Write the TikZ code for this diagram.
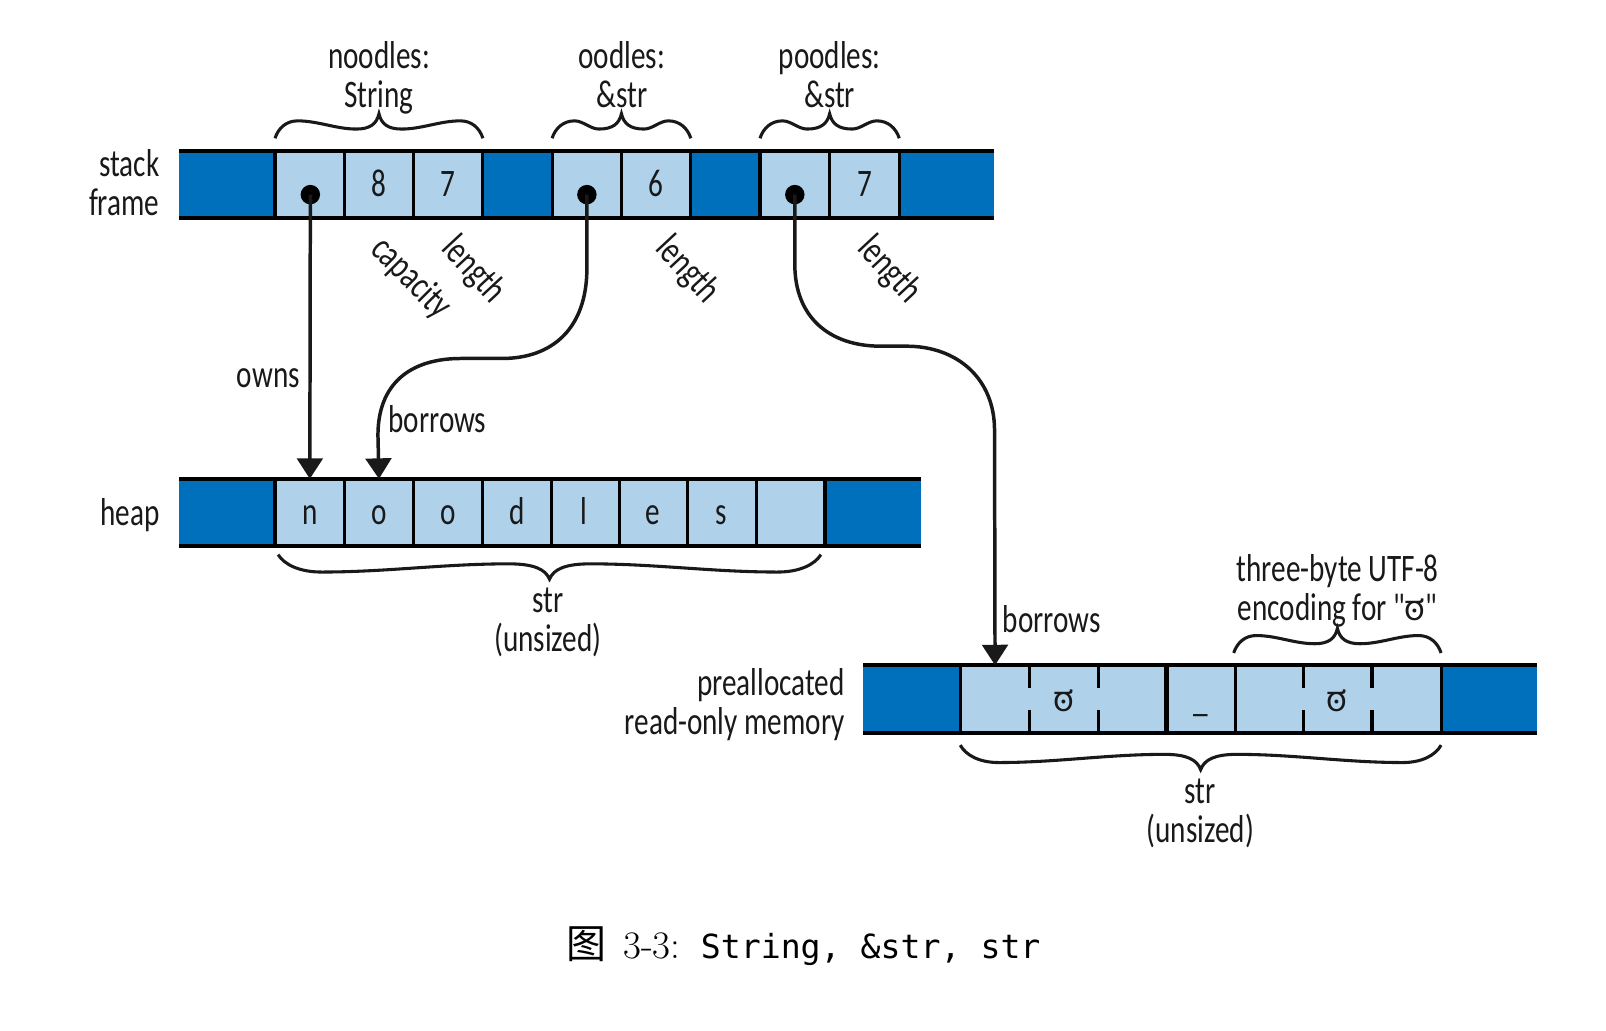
\documentclass[tikz,border=0pt]{standalone}
\usepackage{fontspec}
\usepackage{xcolor}
\usepackage{tikz}
\usetikzlibrary{arrows.meta,calc}
\newfontfamily\diagfont[FakeStretch=0.75]{Carlito}
\newfontfamily\kannfont[Script=Kannada]{Hind Mysuru}
\newfontfamily\cjkfont{Noto Sans CJK SC}
\newfontfamily\capmono{DejaVu Sans Mono}
\definecolor{memdark}{HTML}{0070BC}
\definecolor{memlight}{HTML}{AFD2EA}
% brace between two points, #3 = 1 opens downward, -1 opens upward
\newcommand{\curlybrace}[3]{
  \draw[bracestroke] let \p1=(#1), \p2=(#2), \n1={\x1+0.5*(\x2-\x1)},
      \n7={max(11pt,0.08*(\x2-\x1))}, \n8={max(11pt,0.075*(\x2-\x1))},
      \n2={\x1+\n7}, \n3={\n1-\n8}, \n4={\x2-\n7}, \n5={\n1+\n8}, \n6={0.35*(\n3-\n2)} in
    (\x1,\y1) .. controls ({\x1+0.15*\n7},{\y1+#3*5pt}) and ({\x1+0.5*\n7},{\y1+#3*8.5pt}) .. (\n2,{\y1+#3*8.5pt})
    .. controls ({\n2+\n6},{\y1+#3*8.5pt}) and ({\n3-\n6},{\y1+#3*4.5pt}) .. (\n3,{\y1+#3*4.5pt})
    .. controls ({\n1-0.4*\n8},{\y1+#3*4.5pt}) and ({\n1-0.1*\n8},{\y1+#3*7pt}) .. (\n1,{\y1+#3*12pt})
    .. controls ({\n1+0.1*\n8},{\y1+#3*7pt}) and ({\n1+0.4*\n8},{\y1+#3*4.5pt}) .. (\n5,{\y1+#3*4.5pt})
    .. controls ({\n5+\n6},{\y1+#3*4.5pt}) and ({\n4-\n6},{\y1+#3*8.5pt}) .. (\n4,{\y1+#3*8.5pt})
    .. controls ({\x2-0.5*\n7},{\y1+#3*8.5pt}) and ({\x2-0.15*\n7},{\y1+#3*5pt}) .. (\x2,\y1);
}
\tikzset{
  darkcell/.style={rectangle, fill=memdark, minimum height=33pt, inner sep=0pt, outer sep=0pt},
  lightcell/.style={rectangle, fill=memlight, minimum width=34pt, minimum height=33pt,
    inner sep=0pt, outer sep=0pt, text=black!90, text height=12pt, text depth=0pt,
    font=\diagfont\fontsize{19}{19}\selectfont},
  labeltext/.style={align=center, inner sep=0pt, text=black!90,
    font=\diagfont\fontsize{19}{19}\selectfont},
  ptrdot/.style={circle, fill=black, minimum size=9.5pt, inner sep=0pt},
  barrule/.style={draw=black, line width=2pt},
  cellrule/.style={draw=black, line width=1.5pt},
  bracestroke/.style={draw=black!90, line width=1.5pt},
  ptrarrow/.style={-{Triangle[length=10pt,width=12.5pt]}, draw=black!90, line width=1.7pt},
}
\begin{document}
\begin{tikzpicture}[x=0.5pt, y=-0.5pt]
  \useasboundingbox (0,0) rectangle (1568,1006);

  % ============ Stack frame ============
  \node[darkcell, minimum width=47pt] (stackl) at (222,180) {};
  \node[lightcell] (ptra) at (302.5,180) {};
  \node[lightcell] (capa) at (370,180) {8};
  \node[lightcell] (lena) at (437.5,180) {7};
  \node[darkcell, minimum width=34pt] (stackm) at (505,180) {};
  \node[lightcell] (ptrb) at (573,180) {};
  \node[lightcell] (lenb) at (640.5,180) {6};
  \node[darkcell, minimum width=33.5pt] (stackn) at (708.5,180) {};
  \node[lightcell] (ptrc) at (776,180) {};
  \node[lightcell] (lenc) at (844,180) {7};
  \node[darkcell, minimum width=46pt] (stackr) at (924,180) {};

  \draw[cellrule] (ptra.north west) -- (ptra.south west);
  \draw[cellrule] (ptra.north east) -- (ptra.south east);
  \draw[cellrule] (capa.north east) -- (capa.south east);
  \draw[cellrule] (lena.north east) -- (lena.south east);
  \draw[cellrule] (ptrb.north west) -- (ptrb.south west);
  \draw[cellrule] (ptrb.north east) -- (ptrb.south east);
  \draw[cellrule] (lenb.north east) -- (lenb.south east);
  \draw[cellrule] (ptrc.north west) -- (ptrc.south west);
  \draw[cellrule] (ptrc.north east) -- (ptrc.south east);
  \draw[cellrule] (lenc.north east) -- (lenc.south east);
  \draw[barrule] (stackl.north west) -- (stackr.north east);
  \draw[barrule] (stackl.south west) -- (stackr.south east);

  % ============ Heap ============
  \node[darkcell, minimum width=47pt] (heapl) at (222,500.5) {};
  \node[lightcell] (hn)  at (302.5,500.5) {n};
  \node[lightcell] (hoa) at (370,500.5) {o};
  \node[lightcell] (hob) at (437.5,500.5) {o};
  \node[lightcell] (hd)  at (504.5,500.5) {d};
  \node[lightcell] (hl)  at (570.5,500.5) {l};
  \node[lightcell] (he)  at (637.5,500.5) {e};
  \node[lightcell] (hs)  at (704.5,500.5) {s};
  \node[lightcell] (hx)  at (771.5,500.5) {};
  \node[darkcell, minimum width=47pt] (heapr) at (852,500.5) {};

  \draw[cellrule] (hn.north west) -- (hn.south west);
  \draw[cellrule] (hn.north east) -- (hn.south east);
  \draw[cellrule] (hoa.north east) -- (hoa.south east);
  \draw[cellrule] (hob.north east) -- (hob.south east);
  \draw[cellrule] (hd.north east) -- (hd.south east);
  \draw[cellrule] (hl.north east) -- (hl.south east);
  \draw[cellrule] (he.north east) -- (he.south east);
  \draw[cellrule] (hs.north east) -- (hs.south east);
  \draw[cellrule] (hx.north east) -- (hx.south east);
  \draw[barrule] (heapl.north west) -- (heapr.north east);
  \draw[barrule] (heapl.south west) -- (heapr.south east);

  % ============ Preallocated read-only memory ============
  \node[darkcell, minimum width=47.5pt] (roml) at (890.5,682.5) {};
  \node[lightcell] (ra) at (971.5,682.5) {};
  \node[lightcell] (rb) at (1038.5,682.5) {\kannfont\fontsize{17}{17}\selectfont ಠ};
  \node[lightcell] (rc) at (1105.5,682.5) {};
  \node[lightcell] (rd) at (1172,682.5) {\_};
  \node[lightcell] (re) at (1238.5,682.5) {};
  \node[lightcell] (rf) at (1305.5,682.5) {\kannfont\fontsize{17}{17}\selectfont ಠ};
  \node[lightcell] (rg) at (1373,682.5) {};
  \node[darkcell, minimum width=47pt] (romr) at (1454,682.5) {};

  \draw[cellrule] (ra.north west) -- (ra.south west);
  \draw[cellrule] (rc.north east) -- (rc.south east);
  \draw[cellrule] (rd.north east) -- (rd.south east);
  \draw[cellrule] (rd.north west) -- (rd.south west);
  \draw[cellrule] (rg.north east) -- (rg.south east);
  % notches between the bytes of one character
  \draw[cellrule] (ra.north east) -- ++(0,22);
  \draw[cellrule] (ra.south east) -- ++(0,-22);
  \draw[cellrule] (rb.north east) -- ++(0,22);
  \draw[cellrule] (rb.south east) -- ++(0,-22);
  \draw[cellrule] (re.north east) -- ++(0,22);
  \draw[cellrule] (re.south east) -- ++(0,-22);
  \draw[cellrule] (rf.north east) -- ++(0,22);
  \draw[cellrule] (rf.south east) -- ++(0,-22);
  \draw[barrule] (roml.north west) -- (romr.north east);
  \draw[barrule] (roml.south west) -- (romr.south east);

  % ============ Pointers ============
  \node[ptrdot] (dota) at (303,190) {};
  \node[ptrdot] (dotb) at (573,190) {};
  \node[ptrdot] (dotc) at (776,190) {};

  \draw[ptrarrow] (dota.center) -- (hn.north);
  \draw[ptrarrow] (dotb.center) -- (573,262)
    .. controls (573,320) and (540,350) .. (490,350) -- (450,350)
    .. controls (400,350) and (369,375) .. (369,425) -- (hoa.north);
  \draw[ptrarrow] (dotc.center) -- (776,258)
    .. controls (776,310) and (810,338) .. (860,338) -- (885,338)
    .. controls (935,338) and (971,370) .. (971,420) -- (ra.north);

  % ============ Braces ============
  \curlybrace{[yshift=6pt]ptra.north west}{[yshift=6pt]lena.north east}{1}
  \curlybrace{[yshift=6pt]ptrb.north west}{[yshift=6pt]lenb.north east}{1}
  \curlybrace{[yshift=6pt]ptrc.north west}{[yshift=6pt]lenc.north east}{1}
  \curlybrace{[xshift=1.5pt,yshift=-4pt]hn.south west}{[xshift=-2pt,yshift=-4pt]hx.south east}{-1}
  \curlybrace{[yshift=-6pt]ra.south west}{[yshift=-6pt]rg.south east}{-1}
  \curlybrace{[yshift=6pt]re.north west}{[yshift=6pt]rg.north east}{1}

  % ============ Labels ============
  \node[labeltext] (lnoodles) at (370,76) {noodles:\\String};
  \node[labeltext] (loodles)  at (607,73) {oodles:\\\&str};
  \node[labeltext] (lpoodles) at (810,73) {poodles:\\\&str};
  \node[labeltext, align=right, anchor=east] (lstack) at (156,178) {stack\\frame};
  \node[labeltext, anchor=east] (lheap) at (156,503) {heap};
  \node[labeltext, align=right, anchor=east] (lrom) at (825,687.5) {preallocated\\read-only memory};
  \node[labeltext] (lowns) at (262,369) {owns};
  \node[labeltext] (lborrowa) at (427,409) {borrows};
  \node[labeltext] (lborrowb) at (1027,604) {borrows};
  \node[labeltext] (lstr) at (535,608) {str\\(unsized)};
  \node[labeltext] (lstrb) at (1172,794) {str\\(unsized)};
  \node[labeltext] (lutf) at (1306,576.5) {three-byte UTF-8\\encoding for "{\kannfont\fontsize{17}{17}\selectfont ಠ}"};
  \node[labeltext, rotate=-45] (lcap)  at (401,272) {capacity};
  \node[labeltext, rotate=-47] (llena) at (462,264) {length};
  \node[labeltext, rotate=-47] (llenb) at (671,264) {length};
  \node[labeltext, rotate=-47] (llenc) at (868,264) {length};

  % ============ Caption ============
  \node[inner sep=0pt, anchor=west, font=\fontsize{19}{22}\selectfont] (caption) at (553,924)
    {{\cjkfont\fontsize{19.5}{22}\selectfont 图}\hspace{8pt}3-3:\hspace{10pt}{\capmono\fontsize{16.2}{22}\selectfont String, \&str, str}};
\end{tikzpicture}
\end{document}
